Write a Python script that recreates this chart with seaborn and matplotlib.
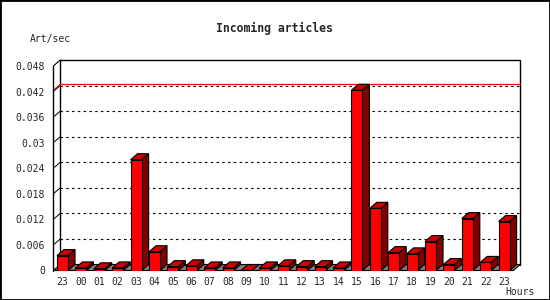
import numpy as np
import pandas as pd
import matplotlib
matplotlib.use("Agg")
import matplotlib.pyplot as plt
from matplotlib.patches import Polygon, Rectangle
import seaborn as sns

# ---- data ----
hours = ["23", "00", "01", "02", "03", "04", "05", "06", "07", "08", "09", "10",
         "11", "12", "13", "14", "15", "16", "17", "18", "19", "20", "21", "22", "23"]
rates = [0.0035, 0.0006, 0.0004, 0.0006, 0.0260, 0.0044, 0.0009, 0.0011, 0.0006,
         0.0006, 0.0000, 0.0006, 0.0011, 0.0009, 0.0009, 0.0006, 0.0423, 0.0146,
         0.0042, 0.0039, 0.0068, 0.0014, 0.0122, 0.0019, 0.0115]
ytick_vals = [0, 0.006, 0.012, 0.018, 0.024, 0.03, 0.036, 0.042, 0.048]
ytick_labels = ["0", "0.006", "0.012", "0.018", "0.024", "0.03", "0.036", "0.042", "0.048"]
title = "Incoming articles"
ylabel = "Art/sec"
xlabel = "Hours"

sns.set_style("white")
mono = ["DejaVu Sans Mono"]
plt.rcParams["font.family"] = mono

W, H = 550, 300
fig = plt.figure(figsize=(W / 100, H / 100), dpi=100)
fig.patch.set_facecolor("white")

ax_l, ax_b, ax_w, ax_h = 53.3, 29.5, 460.0, 204.5
ax = fig.add_axes([ax_l / W, ax_b / H, ax_w / W, ax_h / H])
ax.set_facecolor("none")

df = pd.DataFrame({"slot": np.arange(len(rates)), "rate": rates})
sns.barplot(data=df, x="slot", y="rate", color="#ff0000", saturation=1,
            width=0.6, edgecolor="black", linewidth=0.8, ax=ax, zorder=5)

n = len(rates)
ymax = ytick_vals[-1]
ax.set_xlim(-0.5, n - 0.5)
ax.set_ylim(0, ymax)
for s in ax.spines.values():
    s.set_visible(False)

ppx = ax_w / n
ppy = ax_h / ymax
dx = 7.0 / ppx
dy = 6.0 / ppy
x0, x1 = -0.5, n - 0.5

kw = dict(clip_on=False)
# floor
ax.add_patch(Polygon([(x0, 0), (x1, 0), (x1 + dx, dy), (x0 + dx, dy)],
                     closed=True, fc="#808080", ec="black", lw=0.8, zorder=2, **kw))
# back wall frame
ax.plot([x0 + dx, x0 + dx, x1 + dx, x1 + dx], [dy, ymax + dy, ymax + dy, dy],
        color="black", lw=1.0, zorder=1, **kw)
# front axis + top slant
ax.plot([x0, x0], [0, ymax], color="black", lw=1.0, zorder=6, **kw)
ax.plot([x0, x0 + dx], [ymax, ymax + dy], color="black", lw=0.8, zorder=1, **kw)
# gridlines on back wall
for t in ytick_vals[1:-1]:
    ax.plot([x0 + dx, x1 + dx], [t + dy, t + dy], color="black", lw=0.8,
            linestyle=(0, (2.2, 3.0)), zorder=1, **kw)
    ax.plot([x0, x0 + dx], [t, t + dy], color="black", lw=0.7, zorder=1, **kw)
# max line
m = max(rates)
ax.plot([x0 + dx, x1 + dx], [m + dy, m + dy], color="#ff0000", lw=0.9, zorder=1.5, **kw)
ax.plot([x0, x0 + dx], [m, m + dy], color="#ff0000", lw=0.8, zorder=1.5, **kw)

# 3D faces of bars
for p in ax.patches:
    if not isinstance(p, Rectangle) or p.get_facecolor()[:3] != (1.0, 0.0, 0.0):
        continue
    bx, bw, bh = p.get_x(), p.get_width(), p.get_height()
    side = [(bx + bw, 0), (bx + bw, bh), (bx + bw + dx, bh + dy), (bx + bw + dx, dy)]
    top = [(bx, bh), (bx + bw, bh), (bx + bw + dx, bh + dy), (bx + dx, bh + dy)]
    ax.add_patch(Polygon(side, closed=True, fc="#800000", ec="black", lw=0.8, zorder=4, **kw))
    ax.add_patch(Polygon(top, closed=True, fc="#cc0000", ec="black", lw=0.8, zorder=4, **kw))

# ticks
ax.set_xticks(np.arange(n))
ax.set_xticklabels(hours)
ax.set_xticks(np.arange(-0.5, n, 1.0), minor=True)
ax.tick_params(axis="x", which="major", length=0, pad=5, labelsize=7)
ax.tick_params(axis="x", which="minor", length=3, width=0.8, direction="out", color="black")
ax.set_yticks(ytick_vals)
ax.set_yticklabels(ytick_labels)
ax.tick_params(axis="y", length=3, width=0.8, pad=3, labelsize=7, color="black", direction="out")
ax.set_xlabel("")
ax.set_ylabel("")

fig.text(274 / W, 1 - 28 / H, title, ha="center", va="center",
         fontsize=8.3, fontweight="bold", family=mono)
fig.text(30 / W, 1 - 39 / H, ylabel, ha="left", va="center", fontsize=7, family=mono)
fig.text(505 / W, 1 - 292 / H, xlabel, ha="left", va="center", fontsize=7, family=mono)

fig.add_artist(Rectangle((0, 0), 1, 1, transform=fig.transFigure, fill=False,
                         ec="black", lw=2.0))

fig.savefig("out.png", dpi=100)
